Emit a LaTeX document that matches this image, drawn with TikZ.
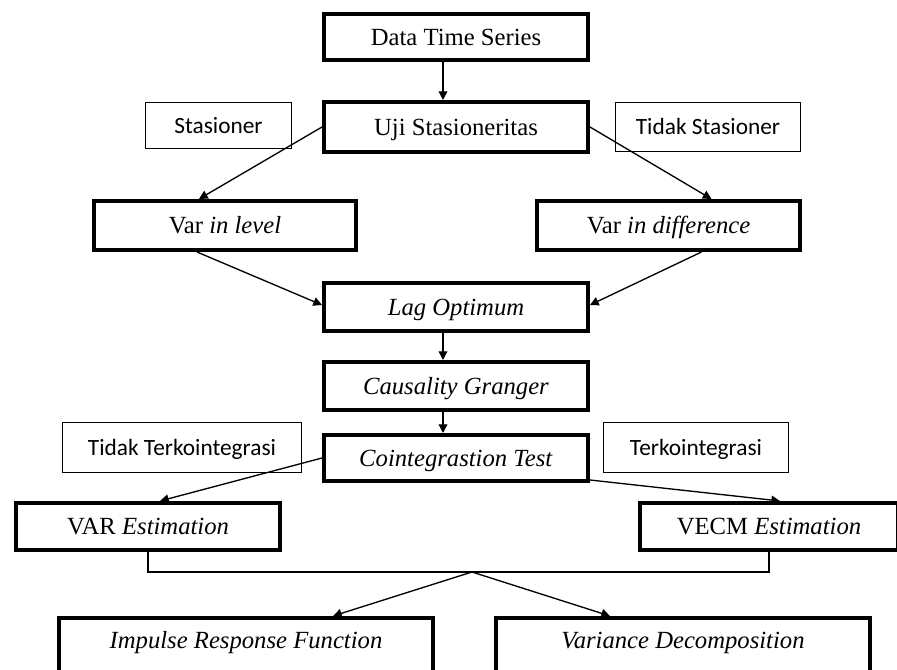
\documentclass[tikz,border=0pt]{standalone}
\usepackage{fontspec}
\setmainfont{Liberation Serif}
\newfontfamily\lblfont{Carlito}
\usetikzlibrary{arrows.meta}
\newcommand\pxu{0.75pt}
\begin{document}
\begin{tikzpicture}[x=0.75pt,y=-0.75pt,
  box/.style={draw, line width=3pt, inner sep=0pt, text height=12.2pt, text depth=0pt, font=\fontsize{18.5}{22}\selectfont},
  lbl/.style={draw, line width=1pt, inner sep=0pt, text height=11.3pt, text depth=0pt, font=\lblfont\fontsize{17.5}{21}\selectfont},
  arr/.style={line width=1pt, -{Triangle[length=6.5pt,width=6.5pt]}},
  ln/.style={line width=1pt}]
\useasboundingbox (0,0) rectangle (897,670);
\clip (0,0) rectangle (897,670);
% main boxes
\node[box, minimum width=264*\pxu, minimum height=46*\pxu] (dts) at (456,37) {Data Time Series};
\node[box, minimum width=264*\pxu, minimum height=50*\pxu] (uji) at (456,127) {Uji Stasioneritas};
\node[lbl, minimum width=146*\pxu, minimum height=46*\pxu] (stas) at (218.5,125.5) {Stasioner};
\node[lbl, minimum width=185*\pxu, minimum height=49*\pxu] (tstas) at (708,127) {Tidak Stasioner};
\node[box, minimum width=262*\pxu, minimum height=49*\pxu] (lvl) at (225,225.5) {Var \textit{in level}};
\node[box, minimum width=263*\pxu, minimum height=49*\pxu] (dif) at (668.5,225.5) {Var \textit{in difference}};
\node[box, minimum width=264*\pxu, minimum height=48*\pxu] (lag) at (456,307) {\textit{Lag Optimum}};
\node[box, minimum width=264*\pxu, minimum height=48*\pxu] (caus) at (456,386) {\textit{Causality Granger}};
\node[box, minimum width=264*\pxu, minimum height=46*\pxu] (coint) at (456,458) {\textit{Cointegrastion Test}};
\node[lbl, minimum width=239*\pxu, minimum height=50*\pxu] (tter) at (182,447.5) {Tidak Terkointegrasi};
\node[lbl, minimum width=185*\pxu, minimum height=50*\pxu] (ter) at (696,447.5) {Terkointegrasi};
\node[box, minimum width=264*\pxu, minimum height=47*\pxu] (var) at (148,526.5) {VAR \textit{Estimation}};
\node[box, minimum width=258*\pxu, minimum height=47*\pxu] (vecm) at (769,526.5) {VECM \textit{Estimation}};
\node[box, minimum width=374*\pxu, text height=30*\pxu, text depth=30*\pxu, anchor=base] (irf) at (246,648) {\textit{Impulse Response Function}};
\node[box, minimum width=374*\pxu, text height=30*\pxu, text depth=30*\pxu, anchor=base] (vd) at (683,648) {\textit{Variance Decomposition}};
% connectors
\draw[arr] ([xshift=-13*\pxu]dts.south) -- ([xshift=-13*\pxu]uji.north);
\draw[arr] (uji.west) -- ([xshift=-26*\pxu]lvl.north);
\draw[arr] (uji.east) -- ([xshift=43*\pxu]dif.north);
\draw[arr] ([xshift=-28*\pxu]lvl.south) -- ([yshift=2*\pxu]lag.west);
\draw[arr] ([xshift=33*\pxu]dif.south) -- ([yshift=2*\pxu]lag.east);
\draw[arr] ([xshift=-13*\pxu]lag.south) -- ([xshift=-13*\pxu]caus.north);
\draw[arr] ([xshift=-13*\pxu]caus.south) -- ([xshift=-13*\pxu]coint.north);
\draw[arr] (coint.west) -- ([xshift=12*\pxu]var.north);
\draw[arr] ([yshift=-22*\pxu]coint.east) -- ([xshift=11*\pxu]vecm.north);
\coordinate (j) at (472,572);
\draw[ln] (var.south) |- (j) -| (vecm.south);
\draw[arr] (j) -- ([xshift=87*\pxu]irf.north);
\draw[arr] (j) -- ([xshift=-73*\pxu]vd.north);
\end{tikzpicture}
\end{document}
